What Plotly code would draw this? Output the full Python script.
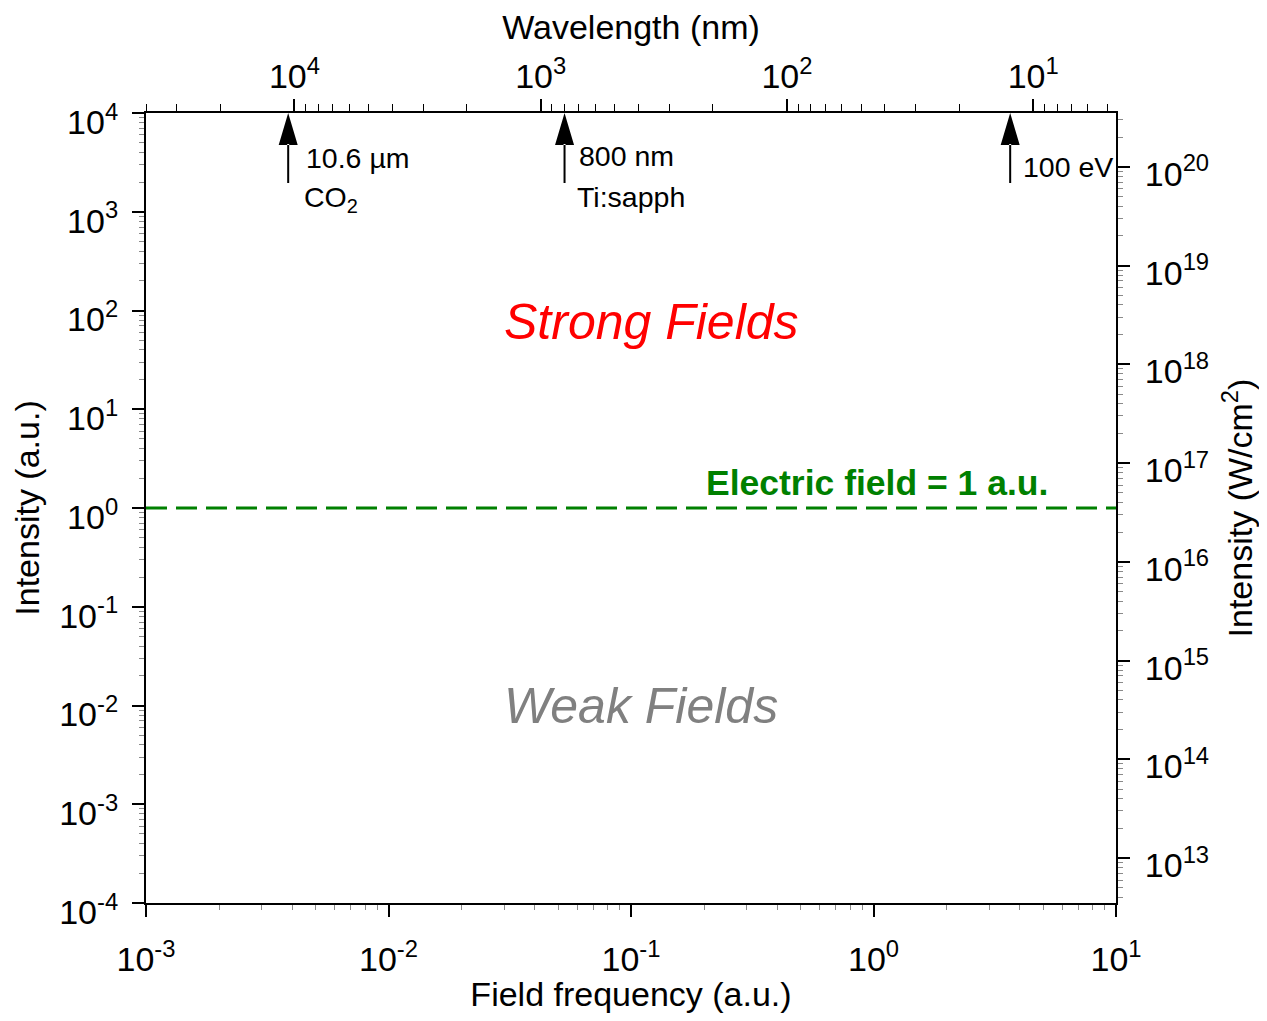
import numpy as np
import plotly.graph_objects as go

# ---------------- data ----------------
freq_range_au = [1e-3, 1e1]                 # bottom axis (field frequency, a.u.)
intensity_range_au = [1e-4, 1e4]            # left axis (intensity, a.u.)
wavelength_range_nm = [40060, 4.61]         # top axis (wavelength, nm), reversed
au_to_w_cm2 = 3.51e16                       # 1 a.u. of intensity in W/cm^2
field_threshold_intensity = [1.0, 1.0]      # E = 1 a.u.

freq_major_exp = [-3, -2, -1, 0, 1]
intensity_major_exp = [-4, -3, -2, -1, 0, 1, 2, 3, 4]
wavelength_major_exp = [1, 2, 3, 4]
wcm2_major_exp = [13, 14, 15, 16, 17, 18, 19, 20]

laser_wavelength_nm = [10600, 800, 12.4]
laser_label_1 = ["10.6 \u00b5m", "800 nm", "100 eV"]
laser_label_2 = ["CO<sub>2</sub>", "Ti:sapph", ""]

FONT = "Liberation Sans, Arial, Helvetica, sans-serif"


def pow_labels(exps):
    return ["10<sup>%d</sup>" % e for e in exps]


def minor_vals(lo, hi):
    return [m * 10.0 ** k for k in range(lo, hi + 1) for m in range(2, 10)]


wcm2_range = [v * au_to_w_cm2 for v in intensity_range_au]

fig = go.Figure()

# threshold line
fig.add_trace(go.Scatter(
    x=freq_range_au, y=field_threshold_intensity, mode="lines",
    line=dict(color="#008000", width=3.2, dash="21px,9px"),
    xaxis="x", yaxis="y", hoverinfo="skip", showlegend=False))

# invisible anchors so secondary axes exist
fig.add_trace(go.Scatter(
    x=laser_wavelength_nm, y=[intensity_range_au[1]] * len(laser_wavelength_nm),
    mode="markers", marker=dict(opacity=0), xaxis="x2", yaxis="y",
    hoverinfo="skip", showlegend=False))
fig.add_trace(go.Scatter(
    x=freq_range_au, y=wcm2_range, mode="markers", marker=dict(opacity=0),
    xaxis="x", yaxis="y2", hoverinfo="skip", showlegend=False))

axis_common = dict(
    type="log", showgrid=False, zeroline=False, showline=True,
    linecolor="black", linewidth=2, ticks="outside", ticklen=12,
    tickwidth=1.5, tickcolor="black",
    tickfont=dict(family=FONT, size=34, color="black"),
)

minor_common = dict(ticks="outside", ticklen=5, tickwidth=1, tickcolor="#8a8a8a")

fig.update_layout(
    width=1251, height=1005,
    margin=dict(l=138, r=143, t=105, b=110, autoexpand=False),
    paper_bgcolor="white", plot_bgcolor="white",
    showlegend=False,
    font=dict(family=FONT, color="black"),
    xaxis=dict(
        **axis_common,
        range=[np.log10(freq_range_au[0]), np.log10(freq_range_au[1])],
        tickvals=[10.0 ** e for e in freq_major_exp],
        ticktext=pow_labels(freq_major_exp),
        minor=dict(**minor_common, tickvals=minor_vals(-3, 0)),
        ticklabelstandoff=13,
        title=dict(text="Field frequency (a.u.)", font=dict(family=FONT, size=34), standoff=9),
        anchor="y", side="bottom",
    ),
    xaxis2=dict(
        **axis_common,
        range=[np.log10(wavelength_range_nm[0]), np.log10(wavelength_range_nm[1])],
        tickvals=[10.0 ** e for e in wavelength_major_exp],
        ticktext=pow_labels(wavelength_major_exp),
        minor=dict(ticks="outside", ticklen=7, tickwidth=1, tickcolor="black",
                   tickvals=minor_vals(0, 4)),
        ticklabelstandoff=-3,
        title=dict(text="Wavelength (nm)", font=dict(family=FONT, size=34), standoff=7),
        overlaying="x", side="top", anchor="y",
    ),
    yaxis=dict(
        **axis_common,
        range=[np.log10(intensity_range_au[0]), np.log10(intensity_range_au[1])],
        tickvals=[10.0 ** e for e in intensity_major_exp],
        ticktext=pow_labels(intensity_major_exp),
        minor=dict(**minor_common, tickvals=minor_vals(-4, 3)),
        ticklabelstandoff=7,
        ticklabelshift=9,
        title=dict(text="Intensity (a.u.)", font=dict(family=FONT, size=34), standoff=11),
        anchor="x", side="left",
    ),
    yaxis2=dict(
        **axis_common,
        range=[np.log10(wcm2_range[0]), np.log10(wcm2_range[1])],
        tickvals=[10.0 ** e for e in wcm2_major_exp],
        ticktext=pow_labels(wcm2_major_exp),
        minor=dict(**minor_common, tickvals=minor_vals(12, 20)),
        ticklabelstandoff=8,
        ticklabelshift=7,
        title=dict(text="Intensity (W/cm<sup>2</sup>)", font=dict(family=FONT, size=34), standoff=21),
        overlaying="y", side="right", anchor="x",
    ),
)

# arrows marking laser wavelengths (anchored at the data wavelength on the top axis)
arrow_path = "M0,0 L-9.5,-32 L9.5,-32 Z M-1,-31 L1,-31 L1,-70 L-1,-70 Z"
for lam in laser_wavelength_nm:
    fig.add_shape(type="path", xref="x2", yref="paper",
                  xsizemode="pixel", ysizemode="pixel",
                  xanchor=lam, yanchor=1, path=arrow_path,
                  fillcolor="black", line=dict(width=0), layer="above")

label_shift = [16, 12, 11]
label_y1 = [0.9435, 0.946, 0.932]
label_y2 = [0.8916, 0.8942, 0.89]
for lam, t1, t2, dx, y1, y2 in zip(laser_wavelength_nm, laser_label_1, laser_label_2,
                                    label_shift, label_y1, label_y2):
    fig.add_annotation(x=np.log10(lam), xref="x2", y=y1, yref="paper", text=t1,
                       showarrow=False, xanchor="left", yanchor="middle", xshift=dx,
                       font=dict(family=FONT, size=28.5, color="black"))
    if t2:
        fig.add_annotation(x=np.log10(lam), xref="x2", y=y2, yref="paper", text=t2,
                           showarrow=False, xanchor="left", yanchor="middle", xshift=dx - 2,
                           font=dict(family=FONT, size=28.5, color="black"))

fig.add_annotation(x=0.521, y=0.736, xref="paper", yref="paper",
                   text="<i>Strong Fields</i>", showarrow=False,
                   xanchor="center", yanchor="middle",
                   font=dict(family=FONT, size=50, color="#ff0000"))
fig.add_annotation(x=0.5106, y=0.250, xref="paper", yref="paper",
                   text="<i>Weak Fields</i>", showarrow=False,
                   xanchor="center", yanchor="middle",
                   font=dict(family=FONT, size=50, color="#808080"))
fig.add_annotation(x=0.932, xref="paper", y=np.log10(field_threshold_intensity[0]), yref="y",
                   text="<b>Electric field = 1 a.u.</b>", showarrow=False,
                   xanchor="right", yanchor="middle", yshift=25,
                   font=dict(family=FONT, size=35.5, color="#008000"))

fig.write_html("out.html")
